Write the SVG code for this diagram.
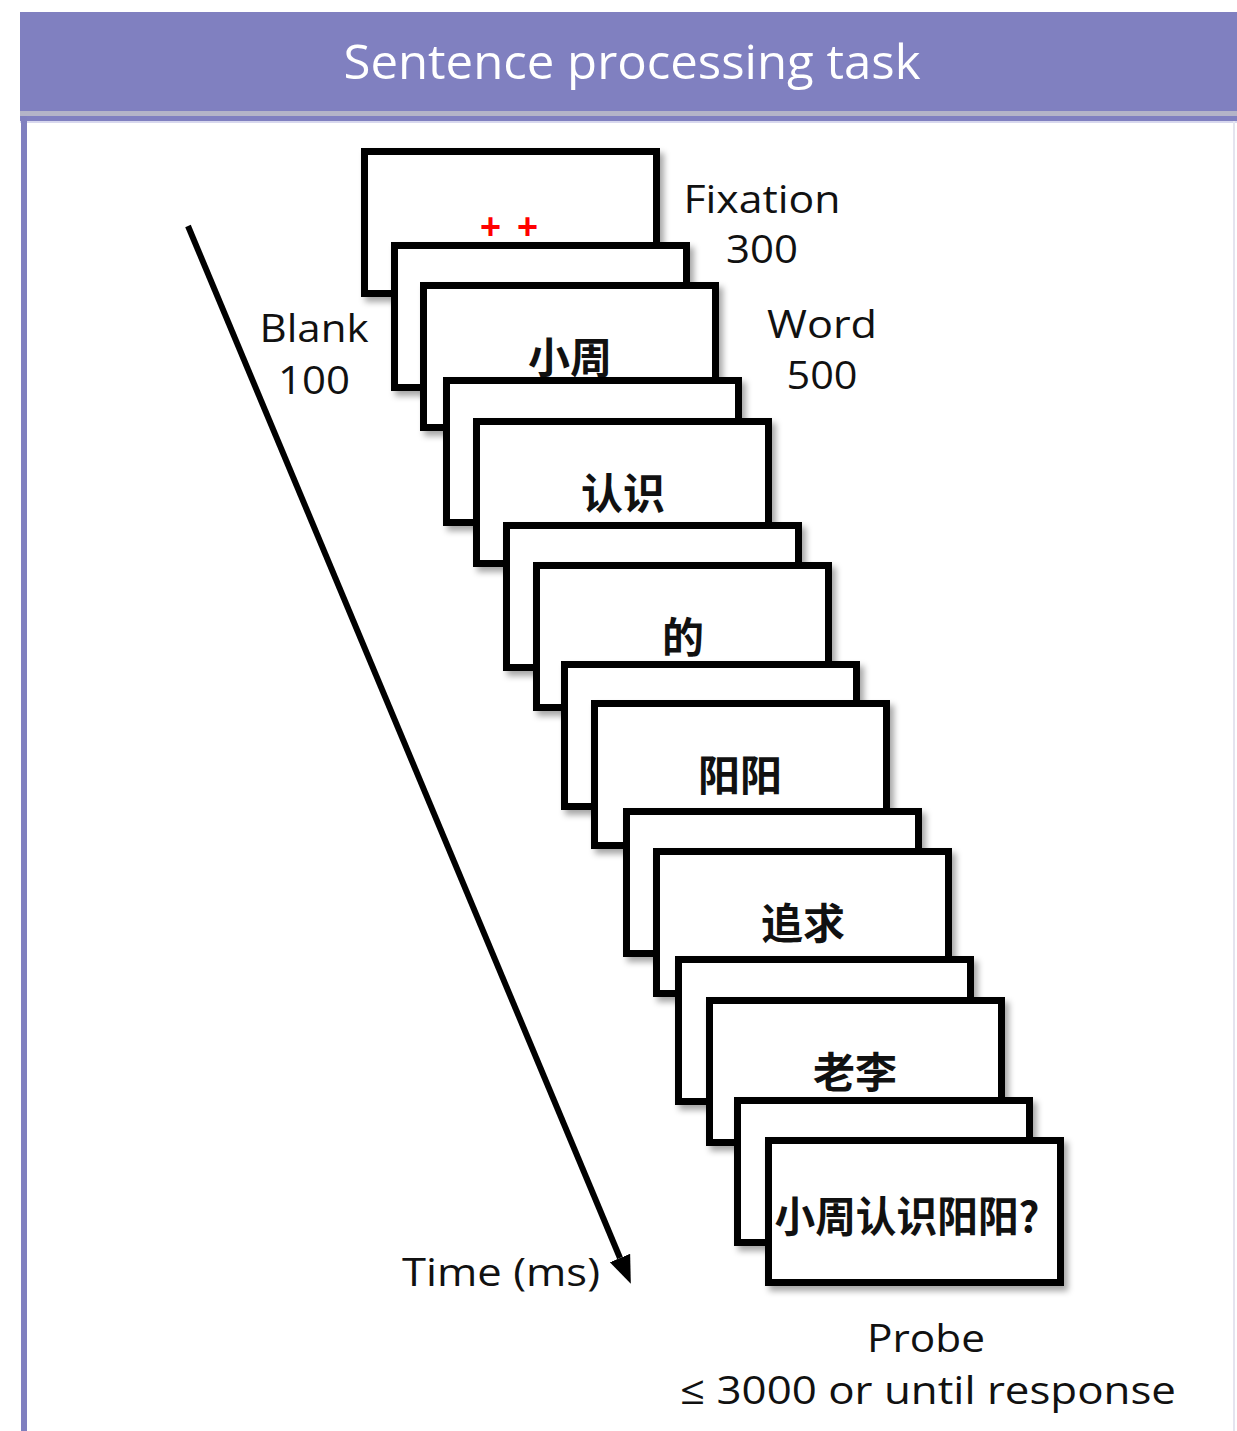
<svg xmlns="http://www.w3.org/2000/svg" width="1237" height="1431" viewBox="0 0 1237 1431">
  <style>
    .frame { fill: #ffffff; stroke: #000000; stroke-width: 7; filter: url(#shadow); }
    .word { font-family: "Noto Sans CJK SC", "Noto Sans", sans-serif; font-weight: 700; font-size: 42px; fill: #111111; text-anchor: middle; }
    .label { font-family: "Open Sans", "Noto Sans", sans-serif; font-size: 39px; fill: #111111; text-anchor: middle; }
    .title { font-family: "Open Sans", "Noto Sans", sans-serif; font-size: 47px; fill: #ffffff; text-anchor: middle; }
  </style>
  <defs>
    <filter id="shadow" x="-10%" y="-10%" width="130%" height="130%">
      <feDropShadow dx="4" dy="5" stdDeviation="3" flood-color="#000000" flood-opacity="0.35"/>
    </filter>
    <marker id="head" markerUnits="userSpaceOnUse" viewBox="0 -12 30 24" markerWidth="30" markerHeight="24" refX="0" refY="0" orient="auto">
      <path d="M0,-11 L28,0 L0,11 z" fill="#000000"/>
    </marker>
  </defs>

  <!-- page background and panel -->
  <rect x="0" y="0" width="1237" height="1431" fill="#ffffff"/>
  <g id="header">
    <rect x="20" y="12" width="1217" height="99" fill="#8080c0"/>
    <rect x="20" y="111" width="1217" height="5" fill="#b4b4c8"/>
    <rect x="20" y="116" width="1217" height="5" fill="#8080c0"/>
    <rect x="20" y="121" width="1217" height="2" fill="#d8d8ee"/>
    <text class="title" x="632" y="79" textLength="577" lengthAdjust="spacingAndGlyphs">Sentence processing task</text>
  </g>
  <rect x="21" y="116" width="6" height="1315" fill="#7f7fbf"/>
  <rect x="1233" y="121" width="2" height="1310" fill="#e4e4ef"/>

  <!-- time axis -->
  <g id="connectors">
    <line x1="188" y1="226" x2="620" y2="1258" stroke="#000000" stroke-width="6" marker-end="url(#head)"/>
  </g>

  <!-- stacked display frames -->
  <g id="fixation">
    <rect class="frame" x="364.5" y="151.5" width="292" height="142"/>
    <text x="517" y="239" font-family="Liberation Sans, Arial, sans-serif" font-weight="700" font-size="36" fill="#ff0000" text-anchor="middle" letter-spacing="16">++</text>
  </g>
  <g id="blank1"><rect class="frame" x="394.5" y="245.5" width="292" height="142"/></g>
  <g id="word1">
    <rect class="frame" x="423.5" y="285.5" width="292" height="142"/>
    <text class="word" x="570" y="373">小周</text>
  </g>
  <g id="blank2"><rect class="frame" x="446.5" y="380.5" width="292" height="142"/></g>
  <g id="word2">
    <rect class="frame" x="476.5" y="421.5" width="292" height="142"/>
    <text class="word" x="623" y="509">认识</text>
  </g>
  <g id="blank3"><rect class="frame" x="506.5" y="525.5" width="292" height="142"/></g>
  <g id="word3">
    <rect class="frame" x="536.5" y="565.5" width="292" height="142"/>
    <text class="word" x="683" y="653">的</text>
  </g>
  <g id="blank4"><rect class="frame" x="564.5" y="664.5" width="292" height="142"/></g>
  <g id="word4">
    <rect class="frame" x="594.5" y="703.5" width="292" height="142"/>
    <text class="word" x="740" y="791">阳阳</text>
  </g>
  <g id="blank5"><rect class="frame" x="626.5" y="811.5" width="292" height="142"/></g>
  <g id="word5">
    <rect class="frame" x="656.5" y="851.5" width="292" height="142"/>
    <text class="word" x="803" y="939">追求</text>
  </g>
  <g id="blank6"><rect class="frame" x="678.5" y="959.5" width="292" height="142"/></g>
  <g id="word6">
    <rect class="frame" x="709.5" y="1000.5" width="292" height="142"/>
    <text class="word" x="855" y="1088">老李</text>
  </g>
  <g id="blank7"><rect class="frame" x="737.5" y="1100.5" width="292" height="142"/></g>
  <g id="probe">
    <rect class="frame" x="768.5" y="1140.5" width="292" height="142"/>
    <text class="word" x="907" y="1232" font-size="34" textLength="265" lengthAdjust="spacingAndGlyphs">小周认识阳阳?</text>
  </g>

  <!-- timing labels -->
  <g id="label-fixation">
    <text class="label" x="762" y="213" textLength="157" lengthAdjust="spacingAndGlyphs">Fixation</text>
    <text class="label" x="762" y="263" textLength="72" lengthAdjust="spacingAndGlyphs">300</text>
  </g>
  <g id="label-blank">
    <text class="label" x="314" y="342" textLength="109" lengthAdjust="spacingAndGlyphs">Blank</text>
    <text class="label" x="314" y="394" textLength="72" lengthAdjust="spacingAndGlyphs">100</text>
  </g>
  <g id="label-word">
    <text class="label" x="822" y="338" textLength="110" lengthAdjust="spacingAndGlyphs">Word</text>
    <text class="label" x="822" y="389" textLength="71" lengthAdjust="spacingAndGlyphs">500</text>
  </g>
  <g id="label-time">
    <text class="label" x="501" y="1286" textLength="198" lengthAdjust="spacingAndGlyphs">Time (ms)</text>
  </g>
  <g id="label-probe">
    <text class="label" x="926" y="1352" textLength="118" lengthAdjust="spacingAndGlyphs">Probe</text>
    <text class="label" x="928" y="1404" textLength="496" lengthAdjust="spacingAndGlyphs">≤ 3000 or until response</text>
  </g>
</svg>
